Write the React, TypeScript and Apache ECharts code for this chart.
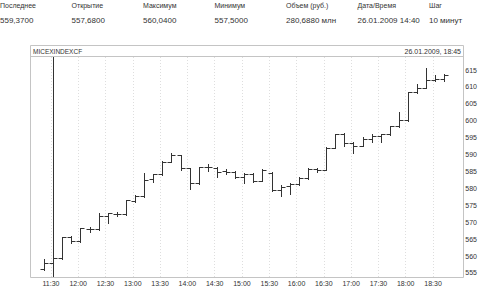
import React, { useEffect, useRef } from 'react';
import * as echarts from 'echarts';

const times = [
  '11:20', '11:30', '11:40', '11:50', '12:00', '12:10', '12:20', '12:30', '12:40', '12:50',
  '13:00', '13:10', '13:20', '13:30', '13:40', '13:50', '14:00', '14:10', '14:20', '14:30',
  '14:40', '14:50', '15:00', '15:10', '15:20', '15:30', '15:40', '15:50', '16:00', '16:10',
  '16:20', '16:30', '16:40', '16:50', '17:00', '17:10', '17:20', '17:30', '17:40', '17:50',
  '18:00', '18:10', '18:20', '18:30', '18:40',
];
const opens = [
  556.1, 558.0, 559.3, 565.7, 564.3, 568.0, 567.9, 571.7, 572.4, 572.4,
  576.4, 577.6, 582.7, 584.2, 587.9, 589.8, 585.9, 581.5, 586.2, 586.1,
  585.0, 584.9, 583.5, 584.4, 582.3, 584.5, 579.5, 580.7, 581.3, 583.0,
  585.7, 585.5, 592.0, 596.1, 593.5, 592.5, 594.5, 595.5, 596.1, 598.3,
  600.2, 608.4, 609.8, 612.0, 612.3,
];
const highs = [
  559.0, 620.0, 565.7, 565.9, 568.2, 568.7, 572.8, 572.6, 573.1, 576.6,
  577.9, 584.5, 584.3, 588.2, 590.4, 589.9, 586.1, 586.4, 587.2, 586.2,
  585.7, 585.0, 584.5, 584.5, 585.6, 584.7, 580.9, 581.5, 583.3, 586.0,
  586.0, 592.2, 596.1, 596.3, 593.7, 595.3, 596.1, 596.1, 598.5, 602.5,
  608.6, 610.8, 615.5, 613.5, 613.8,
];
const lows = [
  555.9, 550.0, 559.2, 563.8, 564.2, 567.1, 567.7, 569.9, 571.9, 572.2,
  576.1, 577.4, 581.9, 584.0, 587.7, 585.4, 579.8, 581.3, 585.2, 583.3,
  584.3, 583.0, 581.7, 582.0, 582.1, 579.3, 577.6, 578.4, 581.1, 582.7,
  584.7, 585.3, 591.9, 592.6, 590.6, 592.4, 593.7, 593.7, 595.9, 598.1,
  600.0, 608.1, 609.6, 611.9, 611.9,
];
const closes = [
  558.0, 559.3, 565.7, 564.3, 568.2, 567.9, 571.7, 572.6, 572.5, 576.5,
  577.6, 582.5, 584.2, 587.9, 589.8, 585.9, 581.5, 586.2, 586.2, 584.9,
  584.9, 583.5, 584.4, 582.3, 585.5, 579.5, 580.5, 581.3, 583.0, 585.7,
  585.5, 592.0, 596.1, 593.5, 592.5, 594.5, 595.5, 596.1, 598.3, 600.2,
  608.6, 609.8, 612.0, 612.3, 613.5,
];

const headerLabels = ['Последнее', 'Открытие', 'Максимум', 'Минимум', 'Объем (руб.)', 'Дата/Время', 'Шаг'];
const headerValues = ['559,3700', '557,6800', '560,0400', '557,5000', '280,6880 млн', '26.01.2009 14:40', '10 минут'];
const instrument = 'MICEXINDEXCF';
const stamp = '26.01.2009, 18:45';

const toMin = (s: string) => {
  const [h, m] = s.split(':').map(Number);
  return h * 60 + m;
};
const fmtTime = (v: number) => {
  const h = Math.floor(v / 60);
  const m = Math.round(v - h * 60);
  return `${h}:${m < 10 ? '0' + m : m}`;
};

const FONT = '"Liberation Sans", Arial, sans-serif';

export default function App() {
  const ref = useRef<HTMLDivElement>(null);
  useEffect(() => {
    if (!ref.current) return;
    const chart = echarts.init(ref.current, null, { renderer: 'svg' });
    const data = times.map((t, i) => [toMin(t), opens[i], highs[i], lows[i], closes[i]]);
    const colW = 71.5;
    const graphic: any[] = [];
    headerLabels.forEach((s, i) => {
      graphic.push({
        type: 'text', left: i * colW, top: 2,
        style: { text: s, font: `7px ${FONT}`, fill: '#333' },
      });
    });
    headerValues.forEach((s, i) => {
      graphic.push({
        type: 'text', left: i * colW, top: 16,
        style: { text: s, font: `8px ${FONT}`, fill: '#333' },
      });
    });
    graphic.push(
      { type: 'rect', shape: { x: 30.5, y: 45.5, width: 433, height: 232 }, style: { fill: 'none', stroke: '#c4c4c4', lineWidth: 1 }, z: 10 },
      { type: 'line', shape: { x1: 30.5, y1: 56.5, x2: 463.5, y2: 56.5 }, style: { stroke: '#c4c4c4', lineWidth: 1 }, z: 10 },
      { type: 'text', left: 33, top: 48, style: { text: instrument, font: `6.5px ${FONT}`, fill: '#333' }, z: 10 },
      { type: 'text', right: 19, top: 48, style: { text: stamp, font: `7px ${FONT}`, fill: '#333' }, z: 10 },
    );

    chart.setOption({
      animation: false,
      backgroundColor: '#fff',
      grid: { left: 30, right: 16, top: 57, bottom: 10, containLabel: false },
      xAxis: {
        type: 'value',
        min: 667,
        max: 1140,
        splitNumber: 16,
        minInterval: 30,
        maxInterval: 30,
        axisLine: { show: false },
        axisTick: { show: false },
        axisLabel: {
          show: true, margin: 2, fontSize: 7, fontFamily: FONT, color: '#333',
          showMinLabel: false, showMaxLabel: false,
          formatter: (v: number) => fmtTime(v),
        },
        splitLine: { show: true, showMinLine: false, showMaxLine: false, lineStyle: { color: '#dedede', type: [1, 2], width: 1 } },
      },
      yAxis: {
        type: 'value',
        position: 'right',
        min: 553.5,
        max: 618.85,
        splitNumber: 13,
        minInterval: 5,
        maxInterval: 5,
        axisLine: { show: false },
        axisTick: { show: false },
        axisLabel: {
          show: true, margin: 5, fontSize: 7, fontFamily: FONT, color: '#333',
          showMinLabel: false, showMaxLabel: false,
          formatter: (v: number) => String(Math.round(v)),
        },
        splitLine: { show: false },
      },
      graphic,
      series: [
        {
          type: 'custom',
          clip: true,
          encode: { x: 0, y: [1, 2, 3, 4] },
          data,
          renderItem: (params: any, api: any) => {
            const t = api.value(0);
            const off = api.size([2.5, 0])[0];
            const pO = api.coord([t, api.value(1)]);
            const pH = api.coord([t, api.value(2)]);
            const pL = api.coord([t, api.value(3)]);
            const pC = api.coord([t, api.value(4)]);
            const x = Math.round(pO[0] + off) + 0.5;
            const w = 4;
            const yo = Math.round(pO[1]) + 0.5;
            const yc = Math.round(pC[1]) + 0.5;
            const stroke = '#333';
            return {
              type: 'group',
              children: [
                { type: 'line', shape: { x1: x, y1: Math.round(pH[1]), x2: x, y2: Math.round(pL[1]) + 1 }, style: { stroke, lineWidth: 1 } },
                { type: 'line', shape: { x1: x - w, y1: yo, x2: x, y2: yo }, style: { stroke, lineWidth: 1 } },
                { type: 'line', shape: { x1: x, y1: yc, x2: x + w, y2: yc }, style: { stroke, lineWidth: 1 } },
              ],
            };
          },
        },
      ],
    });
    return () => chart.dispose();
  }, []);
  return <div ref={ref} style={{ position: 'fixed', left: 0, top: 0, width: 480, height: 288 }} />;
}
